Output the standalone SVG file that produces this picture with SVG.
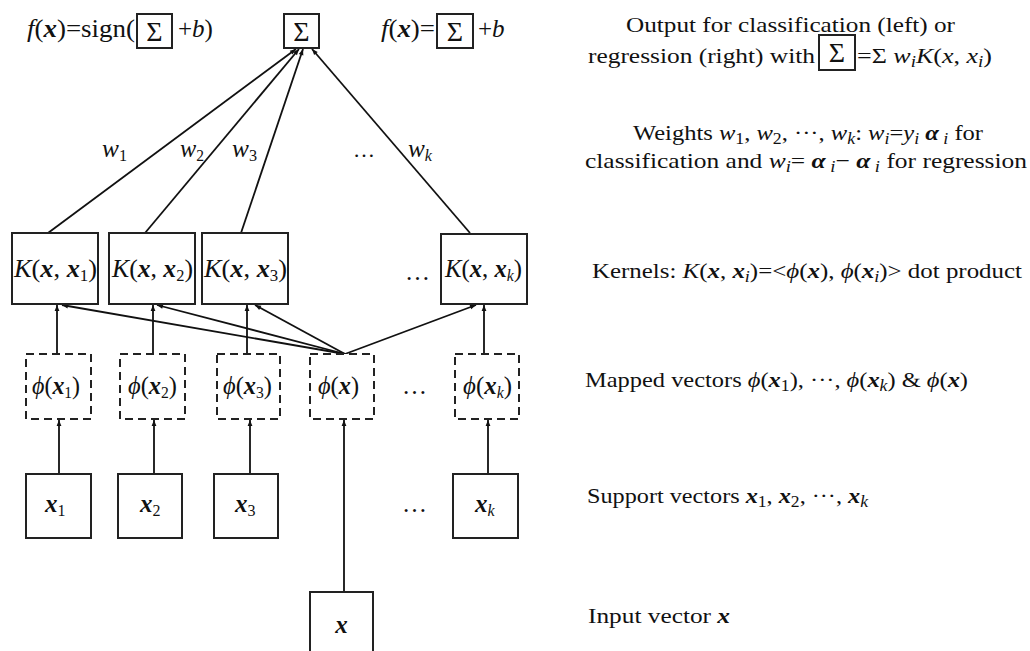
<svg xmlns="http://www.w3.org/2000/svg" width="1030" height="651" viewBox="0 0 1030 651">
<style>
text{font-family:"Liberation Serif","Times New Roman",serif;fill:#111}
.r{font-size:22px}
.n{font-size:25px}
.g{font-size:28px}
.i{font-style:italic}
.b{font-style:italic;font-weight:bold}
.s{font-size:16px}
.box{fill:#fff;stroke:#222;stroke-width:2}
.dash{stroke-dasharray:8 5}
.ln{fill:none;stroke:#111;stroke-width:1.8;marker-end:url(#ah)}
</style>
<defs>
<marker id="ah" viewBox="0 0 10 10" refX="10" refY="5" markerWidth="9" markerHeight="6" orient="auto" markerUnits="userSpaceOnUse"><path d="M0,1 L10,5 L0,9 z" fill="#111"/></marker>
</defs>
<rect width="1030" height="651" fill="#fff"/>

<g id="connectors">
<line class="ln" x1="59" y1="474" x2="59" y2="420"/>
<line class="ln" x1="154" y1="474" x2="154" y2="420"/>
<line class="ln" x1="250" y1="474" x2="250" y2="420"/>
<line class="ln" x1="344" y1="592" x2="344" y2="420"/>
<line class="ln" x1="488" y1="474" x2="488" y2="420"/>
<line class="ln" x1="57" y1="354" x2="57" y2="305"/>
<line class="ln" x1="153" y1="354" x2="153" y2="305"/>
<line class="ln" x1="247" y1="354" x2="247" y2="305"/>
<line class="ln" x1="484" y1="354" x2="484" y2="305"/>
<line class="ln" x1="345" y1="354" x2="62" y2="305"/>
<line class="ln" x1="345" y1="354" x2="157" y2="305"/>
<line class="ln" x1="345" y1="354" x2="255" y2="305"/>
<line class="ln" x1="345" y1="354" x2="476" y2="305"/>
<line class="ln" x1="48" y1="233" x2="296" y2="49"/>
<line class="ln" x1="145" y1="233" x2="299" y2="49"/>
<line class="ln" x1="241" y1="233" x2="303" y2="49"/>
<line class="ln" x1="470" y1="233" x2="312" y2="49"/>
<text class="n" x="102" y="157" textLength="25" lengthAdjust="spacingAndGlyphs"><tspan class="i">w</tspan><tspan class="s" dy="4">1</tspan></text>
<text class="n" x="180" y="157" textLength="24" lengthAdjust="spacingAndGlyphs"><tspan class="i">w</tspan><tspan class="s" dy="4">2</tspan></text>
<text class="n" x="232" y="157" textLength="25" lengthAdjust="spacingAndGlyphs"><tspan class="i">w</tspan><tspan class="s" dy="4">3</tspan></text>
<text class="r" x="353" y="157">…</text>
<text class="n" x="408" y="157" textLength="24" lengthAdjust="spacingAndGlyphs"><tspan class="i">w</tspan><tspan class="s i" dy="4">k</tspan></text>
</g>

<g id="sum">
<rect class="box" x="284" y="14" width="35" height="34"/>
<text class="g" x="301.5" y="41" text-anchor="middle">Σ</text>
</g>

<g id="out-class">
<text class="n" x="27" y="37" textLength="108" lengthAdjust="spacingAndGlyphs"><tspan class="i">f</tspan>(<tspan class="b">x</tspan>)=sign(</text>
<rect class="box" x="137" y="14" width="35" height="34"/>
<text class="g" x="154.5" y="41" text-anchor="middle">Σ</text>
<text class="n" x="178" y="37">+<tspan class="i">b</tspan>)</text>
</g>

<g id="out-reg">
<text class="n" x="381" y="37" textLength="54" lengthAdjust="spacingAndGlyphs"><tspan class="i">f</tspan>(<tspan class="b">x</tspan>)=</text>
<rect class="box" x="437" y="14" width="36" height="34"/>
<text class="g" x="455" y="41" text-anchor="middle">Σ</text>
<text class="n" x="478" y="37">+<tspan class="i">b</tspan></text>
</g>

<g id="k1"><rect class="box" x="12" y="233" width="86" height="71"/>
<text class="n" x="14" y="277" textLength="83" lengthAdjust="spacingAndGlyphs"><tspan class="i">K</tspan>(<tspan class="b">x</tspan>, <tspan class="b">x</tspan><tspan class="s" dy="4">1</tspan><tspan dy="-4">)</tspan></text></g>
<g id="k2"><rect class="box" x="109" y="233" width="86" height="71"/>
<text class="n" x="112" y="277" textLength="81" lengthAdjust="spacingAndGlyphs"><tspan class="i">K</tspan>(<tspan class="b">x</tspan>, <tspan class="b">x</tspan><tspan class="s" dy="4">2</tspan><tspan dy="-4">)</tspan></text></g>
<g id="k3"><rect class="box" x="202" y="233" width="86" height="71"/>
<text class="n" x="204" y="277" textLength="83" lengthAdjust="spacingAndGlyphs"><tspan class="i">K</tspan>(<tspan class="b">x</tspan>, <tspan class="b">x</tspan><tspan class="s" dy="4">3</tspan><tspan dy="-4">)</tspan></text></g>
<text class="n" x="405" y="280">…</text>
<g id="kk"><rect class="box" x="441" y="234" width="86" height="70"/>
<text class="n" x="445" y="277" textLength="77" lengthAdjust="spacingAndGlyphs"><tspan class="i">K</tspan>(<tspan class="b">x</tspan>, <tspan class="b">x</tspan><tspan class="s i" dy="4">k</tspan><tspan dy="-4">)</tspan></text></g>

<g id="phi1"><rect class="box dash" x="26" y="354" width="65" height="65"/>
<text class="n" x="32" y="394" textLength="48" lengthAdjust="spacingAndGlyphs"><tspan class="i">ϕ</tspan>(<tspan class="b">x</tspan><tspan class="s" dy="4">1</tspan><tspan dy="-4">)</tspan></text></g>
<g id="phi2"><rect class="box dash" x="120" y="354" width="65" height="65"/>
<text class="n" x="128" y="394" textLength="49" lengthAdjust="spacingAndGlyphs"><tspan class="i">ϕ</tspan>(<tspan class="b">x</tspan><tspan class="s" dy="4">2</tspan><tspan dy="-4">)</tspan></text></g>
<g id="phi3"><rect class="box dash" x="217" y="354" width="63" height="65"/>
<text class="n" x="223" y="394" textLength="49" lengthAdjust="spacingAndGlyphs"><tspan class="i">ϕ</tspan>(<tspan class="b">x</tspan><tspan class="s" dy="4">3</tspan><tspan dy="-4">)</tspan></text></g>
<g id="phix"><rect class="box dash" x="310" y="354" width="64" height="65"/>
<text class="n" x="318" y="394" textLength="41" lengthAdjust="spacingAndGlyphs"><tspan class="i">ϕ</tspan>(<tspan class="b">x</tspan>)</text></g>
<text class="n" x="402" y="394">…</text>
<g id="phik"><rect class="box dash" x="455" y="354" width="64" height="65"/>
<text class="n" x="463" y="394" textLength="49" lengthAdjust="spacingAndGlyphs"><tspan class="i">ϕ</tspan>(<tspan class="b">x</tspan><tspan class="s i" dy="4">k</tspan><tspan dy="-4">)</tspan></text></g>

<g id="sv1"><rect class="box" x="26" y="474" width="65" height="64"/>
<text class="n" x="45" y="512"><tspan class="b">x</tspan><tspan class="s" dy="4">1</tspan></text></g>
<g id="sv2"><rect class="box" x="118" y="474" width="64" height="64"/>
<text class="n" x="140" y="512"><tspan class="b">x</tspan><tspan class="s" dy="4">2</tspan></text></g>
<g id="sv3"><rect class="box" x="214" y="474" width="64" height="64"/>
<text class="n" x="235" y="512"><tspan class="b">x</tspan><tspan class="s" dy="4">3</tspan></text></g>
<text class="n" x="402" y="512">…</text>
<g id="svk"><rect class="box" x="453" y="474" width="65" height="64"/>
<text class="n" x="475" y="512"><tspan class="b">x</tspan><tspan class="s i" dy="4">k</tspan></text></g>

<g id="input"><rect class="box" x="310" y="592" width="63" height="70"/>
<text class="n" x="341.5" y="633" text-anchor="middle"><tspan class="b">x</tspan></text></g>

<g id="legend">
<text class="r" x="626" y="32" textLength="329" lengthAdjust="spacingAndGlyphs">Output for classification (left) or</text>
<text class="r" x="588" y="63" textLength="227" lengthAdjust="spacingAndGlyphs">regression (right) with</text>
<rect class="box" x="819" y="35" width="36" height="35"/>
<text class="g" x="837" y="62" text-anchor="middle">Σ</text>
<text class="r" x="857" y="63" textLength="135" lengthAdjust="spacingAndGlyphs">=Σ <tspan class="i">w</tspan><tspan class="s i" dy="4">i</tspan><tspan class="i" dy="-4">K</tspan>(<tspan class="i">x</tspan>, <tspan class="i">x</tspan><tspan class="s i" dy="4">i</tspan><tspan dy="-4">)</tspan></text>
<text class="r" x="633" y="140" textLength="350" lengthAdjust="spacingAndGlyphs">Weights <tspan class="i">w</tspan><tspan class="s" dy="4">1</tspan><tspan dy="-4">, </tspan><tspan class="i">w</tspan><tspan class="s" dy="4">2</tspan><tspan dy="-4">, ···, </tspan><tspan class="i">w</tspan><tspan class="s i" dy="4">k</tspan><tspan dy="-4">: </tspan><tspan class="i">w</tspan><tspan class="s i" dy="4">i</tspan><tspan dy="-4">=</tspan><tspan class="i">y</tspan><tspan class="s i" dy="4">i</tspan><tspan dy="-4"> </tspan><tspan class="b">α</tspan><tspan class="s i" dy="4"> i</tspan><tspan dy="-4"> for</tspan></text>
<text class="r" x="585" y="168" textLength="442" lengthAdjust="spacingAndGlyphs">classification and  <tspan class="i">w</tspan><tspan class="s i" dy="4">i</tspan><tspan dy="-4">= </tspan><tspan class="b">α</tspan><tspan class="s i" dy="4"> i</tspan><tspan dy="-4">− </tspan><tspan class="b">α</tspan><tspan class="s i" dy="4"> i</tspan><tspan dy="-4"> for regression</tspan></text>
<text class="r" x="592" y="278" textLength="430" lengthAdjust="spacingAndGlyphs">Kernels: <tspan class="i">K</tspan>(<tspan class="b">x</tspan>, <tspan class="b">x</tspan><tspan class="s i" dy="4">i</tspan><tspan dy="-4">)=&lt;</tspan><tspan class="i">ϕ</tspan>(<tspan class="b">x</tspan>), <tspan class="i">ϕ</tspan>(<tspan class="b">x</tspan><tspan class="s i" dy="4">i</tspan><tspan dy="-4">)&gt; dot product</tspan></text>
<text class="r" x="585" y="387" textLength="383" lengthAdjust="spacingAndGlyphs">Mapped vectors <tspan class="i">ϕ</tspan>(<tspan class="b">x</tspan><tspan class="s" dy="4">1</tspan><tspan dy="-4">), ···, </tspan><tspan class="i">ϕ</tspan>(<tspan class="b">x</tspan><tspan class="s i" dy="4">k</tspan><tspan dy="-4">) &amp; </tspan><tspan class="i">ϕ</tspan>(<tspan class="b">x</tspan>)</text>
<text class="r" x="587" y="503" textLength="281" lengthAdjust="spacingAndGlyphs">Support vectors <tspan class="b">x</tspan><tspan class="s" dy="4">1</tspan><tspan dy="-4">, </tspan><tspan class="b">x</tspan><tspan class="s" dy="4">2</tspan><tspan dy="-4">, ···, </tspan><tspan class="b">x</tspan><tspan class="s i" dy="4">k</tspan></text>
<text class="r" x="588" y="623" textLength="142" lengthAdjust="spacingAndGlyphs">Input vector <tspan class="b">x</tspan></text>
</g>
</svg>
